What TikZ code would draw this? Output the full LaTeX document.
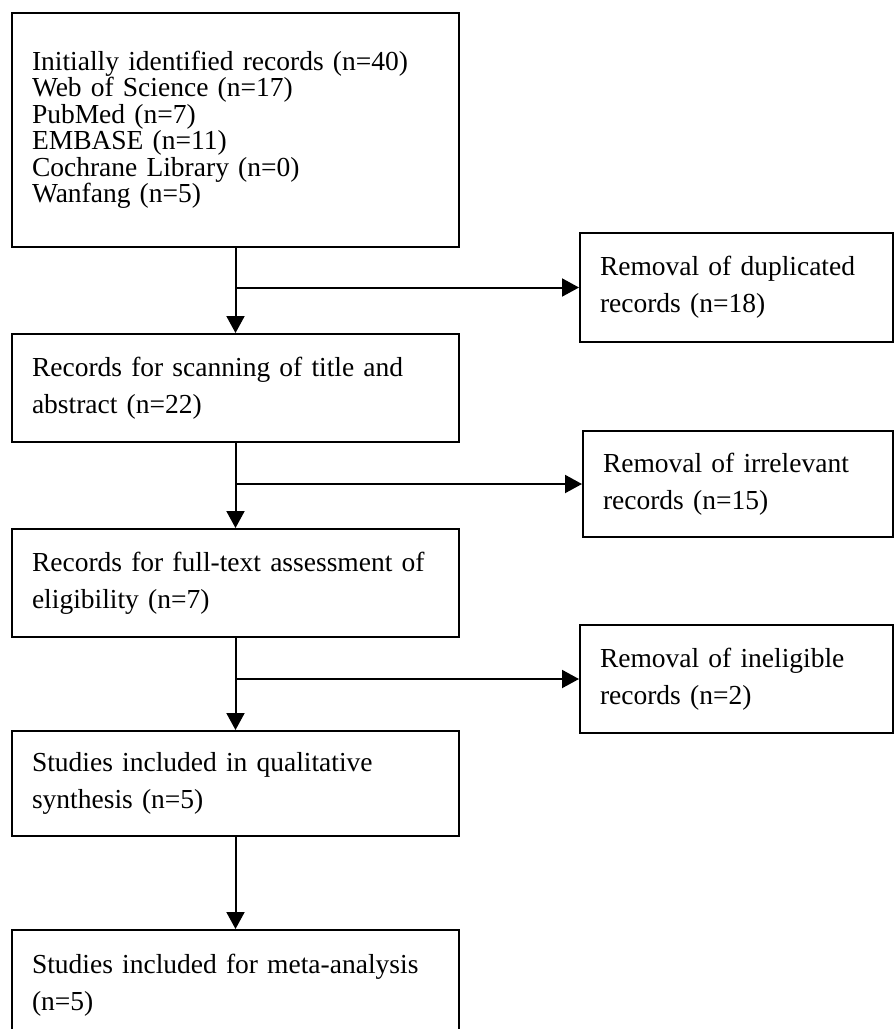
\documentclass[tikz,border=0pt]{standalone}
\usepackage{fontspec}
\setmainfont{Liberation Serif}
\usetikzlibrary{arrows.meta}

\begin{document}
\begin{tikzpicture}[->,>={Triangle[length=17pt,width=18pt]},x=1pt,y=-1pt,line width=2pt,
    box/.style={draw,rectangle,inner xsep=20pt,inner ysep=0pt,align=left,
        font=\fontsize{27.5}{37}\selectfont},
    bigbox/.style={box,text width=407pt},
    sidebox/.style={box,text width=273pt}]
    %    fixed frame, the last box runs off the bottom
        \useasboundingbox (0,0) rectangle (894,1029);
        \clip (0,0) rectangle (894,1029);

        \node[bigbox,minimum height=234pt,font=\fontsize{27.5}{26.5}\selectfont] (Init) at (235.5,130)
            {Initially identified records (n=40)\\Web of Science (n=17)\\PubMed (n=7)\\EMBASE (n=11)\\Cochrane Library (n=0)\\Wanfang (n=5)};
        \node[sidebox,minimum height=109pt] (Dup) at (736.5,287.5) {Removal of duplicated\\records (n=18)};
        \node[bigbox,minimum height=108pt] (Scan) at (235.5,388) {Records for scanning of title and\\abstract (n=22)};
        \node[sidebox,text width=270pt,minimum height=106pt] (Irr) at (738,484) {Removal of irrelevant\\records (n=15)};
        \node[bigbox,minimum height=108pt] (Full) at (235.5,583) {Records for full-text assessment of\\eligibility (n=7)};
        \node[sidebox,minimum height=108pt] (Inel) at (736.5,679) {Removal of ineligible\\records (n=2)};
        \node[bigbox,minimum height=105pt] (Qual) at (235.5,783.5) {Studies included in qualitative\\synthesis (n=5)};
        \node[bigbox,minimum height=110pt] (Meta) at (235.5,985) {Studies included for meta-analysis\\(n=5)};

        \coordinate (Split1) at (Init.south |- Dup.west);
        \coordinate (Split2) at (Scan.south |- Irr.west);
        \coordinate (Split3) at (Full.south |- Inel.west);

        \path (Init)   edge (Scan)
              (Split1) edge (Dup)
              (Scan)   edge (Full)
              (Split2) edge (Irr)
              (Full)   edge (Qual)
              (Split3) edge (Inel)
              (Qual)   edge (Meta);
\end{tikzpicture}
\end{document}
